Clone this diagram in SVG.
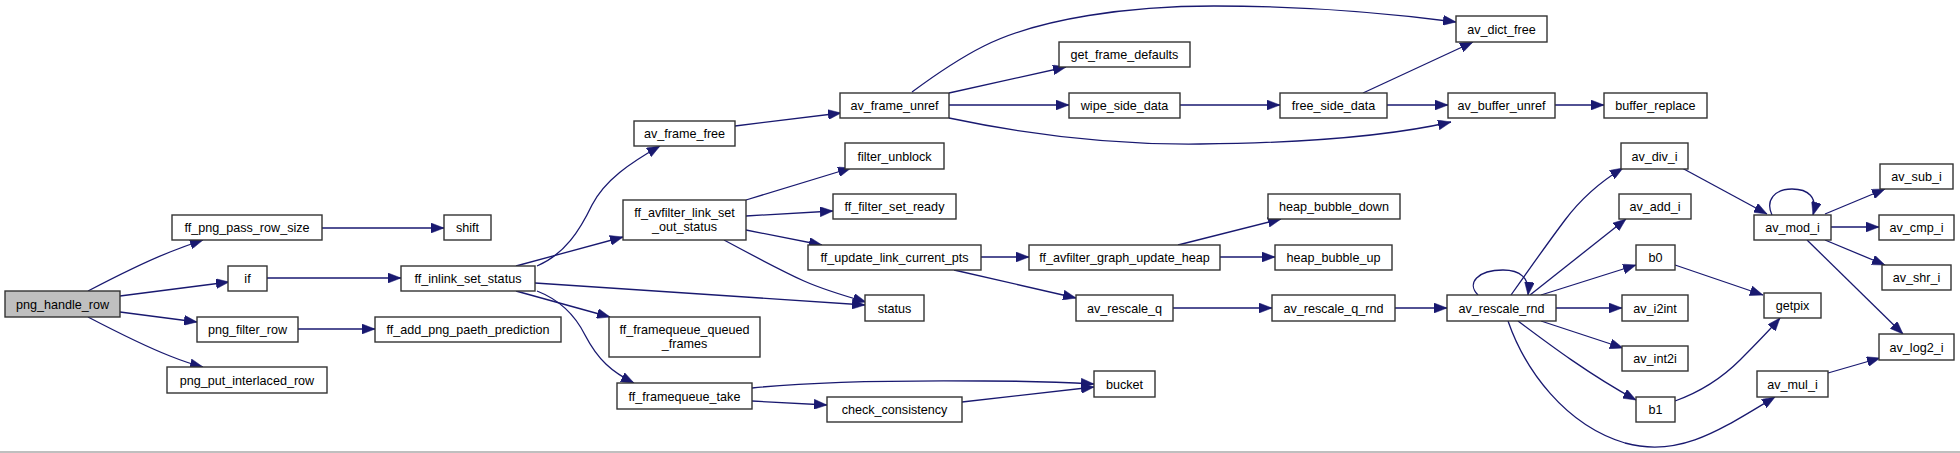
<svg xmlns="http://www.w3.org/2000/svg" width="1960" height="453" viewBox="0 0 1960 453">
<style>
.n rect{fill:#fff;stroke:#333;stroke-width:1.4}
.root rect{fill:#bfbfbf}
text{font-family:"Liberation Sans",Arial,sans-serif;font-size:12.6px;text-anchor:middle;fill:#000}
.e path{fill:none;stroke:#191970;stroke-width:1.3;marker-end:url(#arr)}
</style>
<defs>
<marker id="arr" markerUnits="userSpaceOnUse" markerWidth="13" markerHeight="10" viewBox="0 0 13 10" refX="13" refY="5" orient="auto">
<path d="M0,0 L13,5 L0,10 z" fill="#191970" stroke="#191970" stroke-width="0.5"/>
</marker>
</defs>
<rect x="0" y="0" width="1960" height="453" fill="#fff"/>
<line x1="0" y1="452" x2="1960" y2="452" stroke="#aaa" stroke-width="1.5"/>
<g class="e" id="edges">
<path d="M88,291 C111,279 142,263 170,252 C180,248 191,244 203,240"/>
<path d="M120,296 L229,282"/>
<path d="M120,312 L197,322"/>
<path d="M88,317 C111,329 142,345 170,356 C180,360 191,364 203,367"/>
<path d="M322,228 L444,228"/>
<path d="M267,278 L401,278"/>
<path d="M298,329 L375,329"/>
<path d="M537,266 C565,254 580,230 592,205 C605,180 630,163 660,146"/>
<path d="M516,266 L623,237"/>
<path d="M535,283 L865,305"/>
<path d="M516,291 L610,317"/>
<path d="M537,291 C560,300 575,315 585,335 C598,360 612,372 634,383"/>
<path d="M746,200 L851,168"/>
<path d="M746,216 L833,211"/>
<path d="M746,230 L822,245"/>
<path d="M724,240 C750,254 780,270 804,281 C822,289 845,296 866,302"/>
<path d="M752,388 C800,383 870,380 984,381 C1030,381 1060,382 1094,384"/>
<path d="M752,401 L827,405"/>
<path d="M962,402 L1094,387"/>
<path d="M735,126 L841,113"/>
<path d="M912,92 C935,75 960,58 984,46 C1040,18 1130,6 1214,6 C1300,6 1380,12 1456,22"/>
<path d="M949,93 L1066,67"/>
<path d="M949,105 L1069,105"/>
<path d="M949,118 C1020,133 1110,145 1200,144 C1300,143 1390,136 1451,122"/>
<path d="M1180,105 L1280,105"/>
<path d="M1363,93 L1473,42"/>
<path d="M1387,105 L1448,105"/>
<path d="M1555,105 L1604,105"/>
<path d="M981,257 L1029,257"/>
<path d="M954,270 L1076,298"/>
<path d="M1178,245 L1281,219"/>
<path d="M1220,257 L1275,257"/>
<path d="M1173,308 L1272,308"/>
<path d="M1395,308 L1447,308"/>
<path d="M1478,295 C1466,283 1478,270 1503,270 C1520,270 1530,278 1528,295"/>
<path d="M1511,295 C1530,268 1550,240 1565,220 C1580,200 1600,182 1623,168"/>
<path d="M1530,295 L1626,219"/>
<path d="M1541,295 L1636,265"/>
<path d="M1556,308 L1622,308"/>
<path d="M1541,321 L1623,348"/>
<path d="M1518,321 C1550,345 1590,375 1636,400"/>
<path d="M1508,321 C1525,370 1565,425 1625,443 C1680,458 1720,430 1775,397"/>
<path d="M1682,168 L1767,214"/>
<path d="M1772,215 C1765,200 1775,189 1792,189 C1808,189 1818,197 1813,215"/>
<path d="M1825,214 L1885,189"/>
<path d="M1831,227 L1879,227"/>
<path d="M1825,240 L1885,265"/>
<path d="M1807,240 L1903,334"/>
<path d="M1675,265 L1763,295"/>
<path d="M1675,401 C1700,392 1720,380 1740,360 C1755,345 1768,332 1780,318"/>
<path d="M1828,373 L1880,358"/>
</g>
<g class="n root" id="png_handle_row"><rect x="5" y="291" width="115" height="26"/><text x="62.5" y="308.5">png_handle_row</text></g>
<g class="n" id="ff_png_pass_row_size"><rect x="172" y="215" width="150" height="25"/><text x="247" y="232">ff_png_pass_row_size</text></g>
<g class="n" id="if"><rect x="228" y="266" width="39" height="25"/><text x="247.5" y="283">if</text></g>
<g class="n" id="png_filter_row"><rect x="197" y="317" width="101" height="25"/><text x="247.5" y="334">png_filter_row</text></g>
<g class="n" id="png_put_interlaced_row"><rect x="167" y="367" width="160" height="26"/><text x="247" y="384.5">png_put_interlaced_row</text></g>
<g class="n" id="shift"><rect x="444" y="215" width="47" height="25"/><text x="467.5" y="232">shift</text></g>
<g class="n" id="ff_inlink_set_status"><rect x="401" y="266" width="134" height="25"/><text x="468" y="283">ff_inlink_set_status</text></g>
<g class="n" id="ff_add_png_paeth_prediction"><rect x="375" y="317" width="186" height="25"/><text x="468" y="334">ff_add_png_paeth_prediction</text></g>
<g class="n" id="av_frame_free"><rect x="634" y="121" width="101" height="25"/><text x="684.5" y="138">av_frame_free</text></g>
<g class="n" id="ff_avfilter_link_set_out_status"><rect x="623" y="200" width="123" height="40"/><text x="684.5" y="216.5">ff_avfilter_link_set</text><text x="684.5" y="231">_out_status</text></g>
<g class="n" id="ff_framequeue_queued_frames"><rect x="609" y="317" width="151" height="40"/><text x="684.5" y="333.5">ff_framequeue_queued</text><text x="684.5" y="348">_frames</text></g>
<g class="n" id="ff_framequeue_take"><rect x="617" y="383" width="135" height="26"/><text x="684.5" y="400.5">ff_framequeue_take</text></g>
<g class="n" id="av_frame_unref"><rect x="840" y="93" width="109" height="25"/><text x="894.5" y="110">av_frame_unref</text></g>
<g class="n" id="filter_unblock"><rect x="845" y="143" width="99" height="26"/><text x="894.5" y="160.5">filter_unblock</text></g>
<g class="n" id="ff_filter_set_ready"><rect x="833" y="194" width="123" height="25"/><text x="894.5" y="211">ff_filter_set_ready</text></g>
<g class="n" id="ff_update_link_current_pts"><rect x="808" y="245" width="173" height="25"/><text x="894.5" y="262">ff_update_link_current_pts</text></g>
<g class="n" id="status"><rect x="865" y="295" width="59" height="26"/><text x="894.5" y="312.5">status</text></g>
<g class="n" id="check_consistency"><rect x="827" y="397" width="135" height="25"/><text x="894.5" y="414">check_consistency</text></g>
<g class="n" id="get_frame_defaults"><rect x="1059" y="42" width="131" height="25"/><text x="1124.5" y="59">get_frame_defaults</text></g>
<g class="n" id="wipe_side_data"><rect x="1069" y="93" width="111" height="25"/><text x="1124.5" y="110">wipe_side_data</text></g>
<g class="n" id="ff_avfilter_graph_update_heap"><rect x="1029" y="245" width="191" height="25"/><text x="1124.5" y="262">ff_avfilter_graph_update_heap</text></g>
<g class="n" id="av_rescale_q"><rect x="1076" y="295" width="97" height="26"/><text x="1124.5" y="312.5">av_rescale_q</text></g>
<g class="n" id="bucket"><rect x="1094" y="371" width="61" height="26"/><text x="1124.5" y="388.5">bucket</text></g>
<g class="n" id="av_dict_free"><rect x="1456" y="16" width="91" height="26"/><text x="1501.5" y="33.5">av_dict_free</text></g>
<g class="n" id="free_side_data"><rect x="1280" y="93" width="107" height="25"/><text x="1333.5" y="110">free_side_data</text></g>
<g class="n" id="heap_bubble_down"><rect x="1268" y="194" width="132" height="25"/><text x="1334" y="211">heap_bubble_down</text></g>
<g class="n" id="heap_bubble_up"><rect x="1275" y="245" width="117" height="25"/><text x="1333.5" y="262">heap_bubble_up</text></g>
<g class="n" id="av_rescale_q_rnd"><rect x="1272" y="295" width="123" height="26"/><text x="1333.5" y="312.5">av_rescale_q_rnd</text></g>
<g class="n" id="av_buffer_unref"><rect x="1448" y="93" width="107" height="25"/><text x="1501.5" y="110">av_buffer_unref</text></g>
<g class="n" id="av_rescale_rnd"><rect x="1447" y="295" width="109" height="26"/><text x="1501.5" y="312.5">av_rescale_rnd</text></g>
<g class="n" id="buffer_replace"><rect x="1604" y="93" width="103" height="25"/><text x="1655.5" y="110">buffer_replace</text></g>
<g class="n" id="av_div_i"><rect x="1621" y="143" width="67" height="26"/><text x="1654.5" y="160.5">av_div_i</text></g>
<g class="n" id="av_add_i"><rect x="1619" y="194" width="72" height="25"/><text x="1655" y="211">av_add_i</text></g>
<g class="n" id="b0"><rect x="1636" y="245" width="39" height="25"/><text x="1655.5" y="262">b0</text></g>
<g class="n" id="av_i2int"><rect x="1622" y="295" width="66" height="26"/><text x="1655" y="312.5">av_i2int</text></g>
<g class="n" id="av_int2i"><rect x="1622" y="346" width="66" height="25"/><text x="1655" y="363">av_int2i</text></g>
<g class="n" id="b1"><rect x="1636" y="397" width="39" height="25"/><text x="1655.5" y="414">b1</text></g>
<g class="n" id="av_mod_i"><rect x="1754" y="215" width="77" height="25"/><text x="1792.5" y="232">av_mod_i</text></g>
<g class="n" id="getpix"><rect x="1764" y="293" width="57" height="25"/><text x="1792.5" y="310">getpix</text></g>
<g class="n" id="av_mul_i"><rect x="1757" y="371" width="71" height="26"/><text x="1792.5" y="388.5">av_mul_i</text></g>
<g class="n" id="av_sub_i"><rect x="1880" y="164" width="73" height="25"/><text x="1916.5" y="181">av_sub_i</text></g>
<g class="n" id="av_cmp_i"><rect x="1879" y="215" width="75" height="25"/><text x="1916.5" y="232">av_cmp_i</text></g>
<g class="n" id="av_shr_i"><rect x="1882" y="265" width="69" height="25"/><text x="1916.5" y="282">av_shr_i</text></g>
<g class="n" id="av_log2_i"><rect x="1879" y="334" width="75" height="26"/><text x="1916.5" y="351.5">av_log2_i</text></g>
</svg>
